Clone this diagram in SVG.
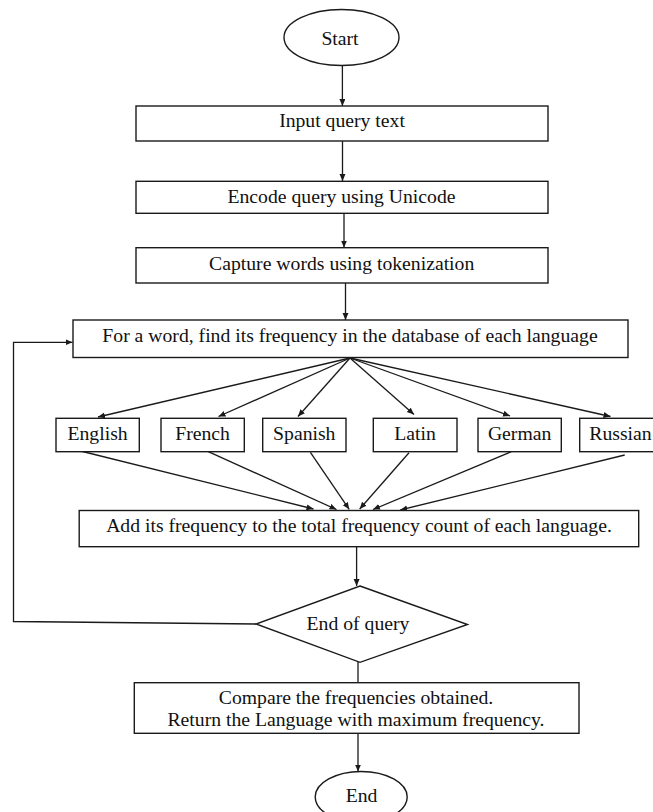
<svg xmlns="http://www.w3.org/2000/svg" width="653" height="812" viewBox="0 0 653 812">
<style>
  .shape { fill: #ffffff; stroke: #1a1a1a; stroke-width: 1.4; }
  .conn { fill: none; stroke: #1a1a1a; stroke-width: 1.3; }
  .lbl { font-family: "Liberation Serif", "Times New Roman", serif; font-size: 19.7px; fill: #111111; text-anchor: middle; }
</style>
<defs>
  <marker id="arrow" markerUnits="userSpaceOnUse" markerWidth="8" markerHeight="7" refX="7" refY="3" orient="auto">
    <path d="M0,0 L7,3 L0,6 z" fill="#1a1a1a"/>
  </marker>
</defs>
<rect x="0" y="0" width="653" height="812" fill="#ffffff"/>

<g id="connectors">
  <line class="conn" x1="342.4" y1="66" x2="342.4" y2="106" marker-end="url(#arrow)"/>
  <line class="conn" x1="342.5" y1="141" x2="342.5" y2="181" marker-end="url(#arrow)"/>
  <line class="conn" x1="344" y1="213" x2="344" y2="247.5" marker-end="url(#arrow)"/>
  <line class="conn" x1="345.5" y1="283" x2="345.5" y2="320" marker-end="url(#arrow)"/>
  <line class="conn" x1="350" y1="358" x2="98" y2="417" marker-end="url(#arrow)"/>
  <line class="conn" x1="350" y1="358" x2="218.5" y2="416.5" marker-end="url(#arrow)"/>
  <line class="conn" x1="350" y1="358" x2="298" y2="416.5" marker-end="url(#arrow)"/>
  <line class="conn" x1="350" y1="358" x2="414" y2="414.5" marker-end="url(#arrow)"/>
  <line class="conn" x1="350" y1="358" x2="510" y2="416" marker-end="url(#arrow)"/>
  <line class="conn" x1="350" y1="358" x2="610.5" y2="416.5" marker-end="url(#arrow)"/>
  <line class="conn" x1="78.5" y1="450.5" x2="313.5" y2="509" marker-end="url(#arrow)"/>
  <line class="conn" x1="208.3" y1="451.7" x2="336.5" y2="509.5" marker-end="url(#arrow)"/>
  <line class="conn" x1="310.4" y1="452.3" x2="349.2" y2="509.3" marker-end="url(#arrow)"/>
  <line class="conn" x1="409" y1="452.7" x2="359.7" y2="509" marker-end="url(#arrow)"/>
  <line class="conn" x1="511.3" y1="451.7" x2="373" y2="509.5" marker-end="url(#arrow)"/>
  <line class="conn" x1="624.7" y1="455" x2="400.3" y2="510" marker-end="url(#arrow)"/>
  <line class="conn" x1="356.6" y1="546.7" x2="356.6" y2="586" marker-end="url(#arrow)"/>
  <polyline class="conn" points="256,624 13.5,621.5 13.5,342.3 72.5,342.3" marker-end="url(#arrow)"/>
  <line class="conn" x1="358" y1="662" x2="358" y2="682.7"/>
  <line class="conn" x1="358" y1="733.3" x2="358" y2="771.5" marker-end="url(#arrow)"/>
</g>

<g id="start">
  <ellipse class="shape" cx="341.5" cy="37.5" rx="57.5" ry="28"/>
  <text class="lbl" x="340" y="45">Start</text>
</g>
<g id="input-query">
  <rect class="shape" x="136" y="106" width="412" height="35"/>
  <text class="lbl" x="342" y="126.7">Input query text</text>
</g>
<g id="encode-query">
  <rect class="shape" x="136" y="181.3" width="412" height="32"/>
  <text class="lbl" x="341.5" y="203">Encode query using Unicode</text>
</g>
<g id="capture-words">
  <rect class="shape" x="136" y="247.7" width="412" height="35.3"/>
  <text class="lbl" x="341.7" y="269.5">Capture words using tokenization</text>
</g>
<g id="find-frequency">
  <rect class="shape" x="73" y="320" width="555" height="37.5"/>
  <text class="lbl" x="350" y="341.5">For a word, find its frequency in the database of each language</text>
</g>
<g id="english">
  <rect class="shape" x="56" y="418.3" width="83.3" height="33.4"/>
  <text class="lbl" x="97.6" y="439.5">English</text>
</g>
<g id="french">
  <rect class="shape" x="161" y="418.3" width="83.3" height="33.4"/>
  <text class="lbl" x="202.6" y="439.5">French</text>
</g>
<g id="spanish">
  <rect class="shape" x="262.7" y="418.3" width="83.3" height="33.4"/>
  <text class="lbl" x="304.3" y="439.5">Spanish</text>
</g>
<g id="latin">
  <rect class="shape" x="373.3" y="418.3" width="83.7" height="33.4"/>
  <text class="lbl" x="415.1" y="439.5">Latin</text>
</g>
<g id="german">
  <rect class="shape" x="478" y="418.3" width="83.3" height="33.4"/>
  <text class="lbl" x="519.6" y="439.5">German</text>
</g>
<g id="russian">
  <rect class="shape" x="579.7" y="418.3" width="83.3" height="33.4"/>
  <text class="lbl" x="620.5" y="439.5">Russian</text>
</g>
<g id="add-frequency">
  <rect class="shape" x="79.2" y="510.5" width="559.5" height="36.2"/>
  <text class="lbl" x="359" y="531.5">Add its frequency to the total frequency count of each language.</text>
</g>
<g id="end-of-query">
  <polygon class="shape" points="360,586 467.5,624.5 360,662.3 256,624"/>
  <text class="lbl" x="358" y="630">End of query</text>
</g>
<g id="compare">
  <rect class="shape" x="134.3" y="682.7" width="444.7" height="50.6"/>
  <text class="lbl" x="356" y="704.3">Compare the frequencies obtained.</text>
  <text class="lbl" x="356" y="726">Return the Language with maximum frequency.</text>
</g>
<g id="end">
  <ellipse class="shape" cx="361.2" cy="797" rx="46" ry="25.5"/>
  <text class="lbl" x="361.5" y="801.7">End</text>
</g>
</svg>
